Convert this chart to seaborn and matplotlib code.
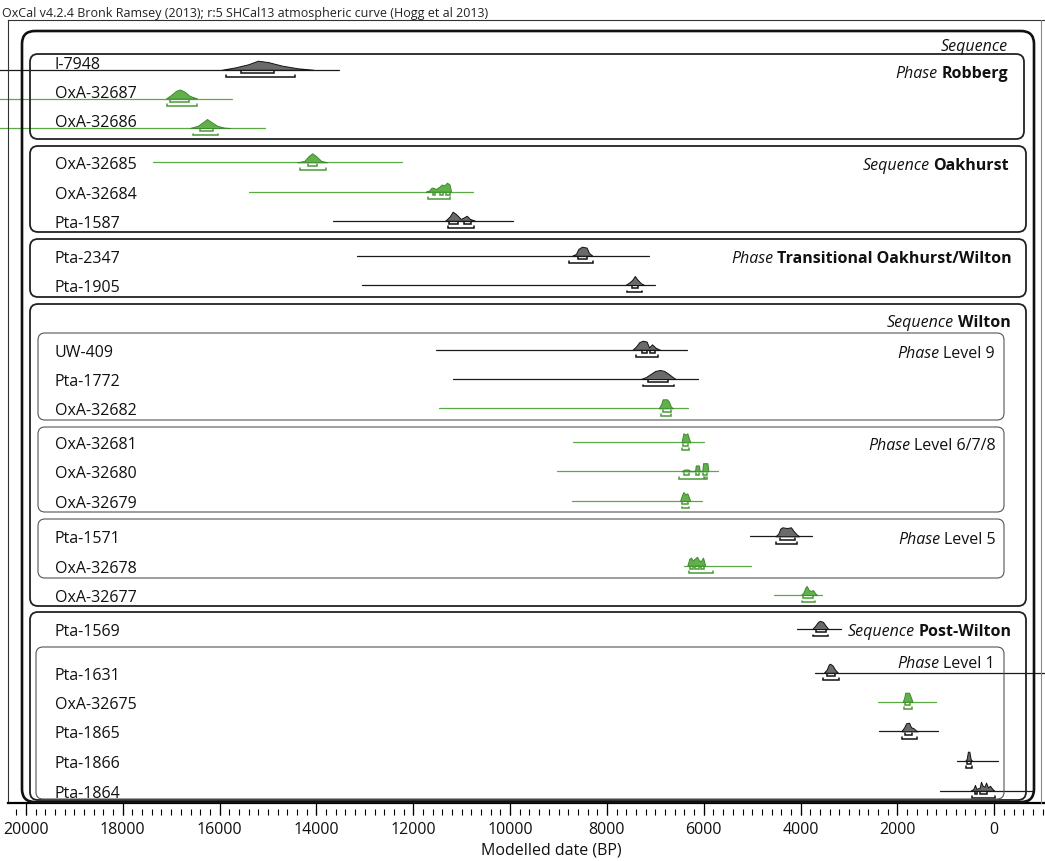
import numpy as np
import pandas as pd
import matplotlib
matplotlib.use("Agg")
import matplotlib.pyplot as plt
import seaborn as sns
from matplotlib import transforms
from matplotlib.patches import FancyBboxPatch
from matplotlib.lines import Line2D
from matplotlib.ticker import FixedLocator, FuncFormatter, NullLocator

# ======================= DATA (years BP) =======================
samples = ["I-7948", "OxA-32687", "OxA-32686",
           "OxA-32685", "OxA-32684", "Pta-1587",
           "Pta-2347", "Pta-1905",
           "UW-409", "Pta-1772", "OxA-32682",
           "OxA-32681", "OxA-32680", "OxA-32679",
           "Pta-1571", "OxA-32678", "OxA-32677",
           "Pta-1569", "Pta-1631", "OxA-32675", "Pta-1865", "Pta-1866", "Pta-1864"]
# G = OxA (new dates, green), K = older dates (black)
lab_kind = ["K", "G", "G", "G", "G", "K", "K", "K", "K", "K", "G", "G", "G", "G",
            "K", "G", "G", "K", "K", "G", "K", "K", "K"]

line_start = [22000, 22000, 22000, 17376, 15394, 13659, 13163, 13060, 11531, 11188, 11477,
              8702, 9032, 8722, 5045, 6411, 4551, 4076, 3703, 2403, 2383, 770, 1121]
line_end = [13540, 15745, 15063, 12232, 10768, 9941, 7133, 7009, 6347, 6120, 6333,
            5996, 5707, 6037, 3765, 5027, 3560, 3167, -1500, 1205, 1164, -76, -779]

range95 = [[(15868, 14443)], [(17087, 16466)], [(16550, 16033)], [(14340, 13803)],
           [(11695, 11241)], [(11283, 10746)], [(8785, 8290)], [(7589, 7279)],
           [(7401, 6946)], [(7256, 6615)], [(6888, 6681)], [(6440, 6300)],
           [(6510, 6000), (5980, 5940)], [(6460, 6310)], [(4509, 4075)], [(6305, 5809)],
           [(3973, 3703)], [(3745, 3430)], [(3546, 3212)], [(1870, 1710)],
           [(1909, 1599)], [(580, 470)], [(470, -10)]]
range68 = [[(15558, 14877)], [(17025, 16632)], [(16405, 16136)], [(14170, 13985)],
           [(11600, 11560), (11440, 11390), (11330, 11250)], [(11262, 11076), (10959, 10808)],
           [(8599, 8413)], [(7485, 7361)], [(7277, 7173), (7111, 7008)], [(7153, 6740)],
           [(6847, 6681)], [(6430, 6320)], [(6400, 6300), (6160, 6100), (6020, 5930)],
           [(6440, 6330)], [(4426, 4116)], [(6280, 6220), (6180, 6100), (6060, 6000)],
           [(3951, 3745)], [(3683, 3477)], [(3450, 3300)], [(1850, 1740)],
           [(1840, 1700)], [(560, 490)], [(400, 350), (290, 150)]]

# modelled distributions: (year BP, relative height)
pdf_I7948 = [(15950, 0), (15680, .25), (15410, .6), (15207, 1), (15000, .85), (14710, .45), (14380, .15), (14070, 0)]
pdf_OxA32687 = [(17107, 0), (17000, .4), (16900, .85), (16818, 1), (16720, .75), (16620, .3), (16466, 0)]
pdf_OxA32686 = [(16611, 0), (16450, .25), (16330, .7), (16260, 1), (16180, .7), (16050, .25), (15900, .04), (15785, 0)]
pdf_OxA32685 = [(14400, 0), (14250, .15), (14160, .7), (14086, 1), (14010, .7), (13900, .15), (13782, 0)]
pdf_OxA32684 = [(11740, 0), (11680, .1), (11620, .45), (11593, .45), (11530, .3), (11450, .6), (11407, .8),
                (11360, .7), (11303, 1), (11250, .8), (11220, 0)]
pdf_Pta1587 = [(11340, 0), (11250, .45), (11186, 1), (11120, .75), (11020, .2), (10960, .35), (10897, .55),
               (10830, .2), (10725, 0)]
pdf_Pta2347 = [(8720, 0), (8640, .2), (8590, .75), (8517, 1), (8420, .9), (8370, .3), (8300, 0)]
pdf_Pta1905 = [(7620, 0), (7560, .2), (7480, .55), (7424, 1), (7370, .6), (7300, .2), (7230, 0)]
pdf_UW409 = [(7470, 0), (7400, .35), (7330, .85), (7256, 1), (7180, .9), (7130, .25), (7070, .6), (6990, .2), (6907, 0)]
pdf_Pta1772 = [(7300, 0), (7200, .2), (7100, .55), (7000, .9), (6905, 1), (6820, .9), (6720, .55), (6640, .2), (6580, 0)]
pdf_OxA32682 = [(6930, 0), (6880, .45), (6850, 1), (6760, 1), (6720, .75), (6680, .2), (6640, 0)]
pdf_OxA32681 = [(6460, 0), (6440, .5), (6420, 1), (6370, .85), (6340, 1), (6310, .5), (6280, 0)]
pdf_OxA32680 = [(6460, 0), (6400, .2), (6320, .2), (6280, .05), (6180, .05), (6165, .65), (6100, .65), (6085, .05),
                (6030, .05), (6015, .9), (5925, .9), (5905, 0)]
pdf_OxA32679 = [(6490, 0), (6450, .65), (6420, 1), (6380, .75), (6340, .85), (6300, .3), (6280, 0)]
pdf_Pta1571 = [(4520, 0), (4460, .3), (4420, .85), (4380, 1), (4280, .92), (4200, 1), (4140, .55), (4080, .2), (4030, 0)]
pdf_OxA32678 = [(6340, 0), (6300, .75), (6264, .9), (6230, .6), (6190, .75), (6140, 1), (6100, .6), (6060, .5),
                (6016, .9), (5990, .4), (5970, 0)]
pdf_OxA32677 = [(3990, 0), (3940, .3), (3900, .85), (3875, 1), (3830, .55), (3790, .45), (3745, .55), (3700, .2), (3660, 0)]
pdf_Pta1569 = [(3760, 0), (3700, .35), (3640, .8), (3600, .9), (3540, .8), (3480, .35), (3430, 0)]
pdf_Pta1631 = [(3520, 0), (3460, .35), (3420, .9), (3393, 1), (3340, .8), (3290, .35), (3230, 0)]
pdf_OxA32675 = [(1890, 0), (1860, .45), (1840, 1), (1760, 1), (1720, .45), (1690, 0)]
pdf_Pta1865 = [(1920, 0), (1860, .45), (1820, .9), (1760, .95), (1720, .45), (1670, .35), (1620, .1), (1580, 0)]
pdf_Pta1866 = [(600, 0), (570, .2), (545, 1), (515, 1), (490, .2), (460, 0)]
pdf_Pta1864 = [(490, 0), (430, .2), (400, .65), (370, .2), (300, .35), (275, 1), (240, .55), (200, .45), (171, .9),
               (130, .35), (90, .55), (40, .2), (0, 0)]

pdfs = [pdf_I7948, pdf_OxA32687, pdf_OxA32686, pdf_OxA32685, pdf_OxA32684, pdf_Pta1587,
        pdf_Pta2347, pdf_Pta1905, pdf_UW409, pdf_Pta1772, pdf_OxA32682, pdf_OxA32681,
        pdf_OxA32680, pdf_OxA32679, pdf_Pta1571, pdf_OxA32678, pdf_OxA32677, pdf_Pta1569,
        pdf_Pta1631, pdf_OxA32675, pdf_Pta1865, pdf_Pta1866, pdf_Pta1864]

group_prefix = ["Sequence", "Phase", "Sequence", "Phase", "Sequence", "Phase", "Phase", "Phase", "Sequence", "Phase"]
group_name = ["", "Robberg", "Oakhurst", "Transitional Oakhurst/Wilton", "Wilton", "Level 9",
              "Level 6/7/8", "Level 5", "Post-Wilton", "Level 1"]
group_bold = [False, True, True, True, True, False, False, False, True, False]

x_ticks = list(range(0, 20001, 2000))
x_minor_ticks = list(range(-1000, 20201, 200))
x_label = "Modelled date (BP)"
header = "OxCal v4.2.4 Bronk Ramsey (2013); r:5 SHCal13 atmospheric curve (Hogg et al 2013)"

# ======================= LAYOUT (pixels, top-left origin) =======================
W, H = 1045, 862
X_ZERO, PX_PER_YR = 994.3, 0.04842
AX_L, AX_R, AX_T, AX_B = 8, 1045, 21, 804
row_line_y = [70.7, 99.5, 129, 163.3, 192.7, 221.7, 256.7, 286, 350.7, 380, 409.3, 443.3, 472.3,
              502, 537.3, 566.7, 596, 630, 673.7, 702.7, 732.3, 761.7, 791.7]
label_shift = [-7.5, -7.5, -7.5] + [0.5] * 20
LABEL_X = 55
PEAK_PX = 9.0
# boxes: x0, y0, x1, y1, linewidth(pt), colour, corner radius(px)
BOXES = [(22, 32, 1034, 803, 1.9, "#111111", 13),
         (30, 55, 1024, 140, 1.3, "#222222", 8),
         (30, 147, 1026, 233, 1.3, "#222222", 8),
         (30, 240, 1026, 298, 1.3, "#222222", 8),
         (30, 305, 1026, 607, 1.3, "#222222", 8),
         (38, 334, 1004, 421, 0.8, "#555555", 7),
         (38, 428, 1004, 513, 0.8, "#555555", 7),
         (38, 520, 1004, 579, 0.8, "#555555", 7),
         (30, 613, 1026, 801, 1.3, "#222222", 8),
         (36, 648, 1004, 800, 0.8, "#555555", 7)]
GROUP_POS = [(1008, 45), (1008, 72.5), (1009, 164), (1012, 257), (1011, 321), (995, 352),
             (996, 444), (996, 538), (1012, 630), (995, 662)]
FS = 11.5
CAP_HALF = 5.7
B68, B95, BTICK = 3.3, 7.4, 1.9

LINE_PAL = {"G": "#5aab45", "K": "#1a1a1a"}
FILL_PAL = {"G": "#62b04c", "K": "#6a6a6a"}
EDGE_PAL = {"G": "#3c8a2c", "K": "#111111"}
BRK_PAL = {"G": "#4a9a38", "K": "#111111"}


def yr_at(px):
    return (X_ZERO - px) / PX_PER_YR


sns.set_theme(style="white")
plt.rcParams["font.family"] = ["Open Sans", "DejaVu Sans"]

fig = plt.figure(figsize=(W / 100, H / 100), dpi=100)
fig.patch.set_facecolor("white")
PX = transforms.Affine2D().scale(1, -1).translate(0, H)

ax = fig.add_axes([AX_L / W, (H - AX_B) / H, (AX_R - AX_L) / W, (AX_B - AX_T) / H])
ax.set_facecolor("white")

# range lines via seaborn
recs = []
for i, s in enumerate(samples):
    recs.append(dict(sample=s, kind=lab_kind[i], year=line_start[i], y=row_line_y[i]))
    recs.append(dict(sample=s, kind=lab_kind[i], year=line_end[i], y=row_line_y[i]))
df = pd.DataFrame(recs)
sns.lineplot(data=df, x="year", y="y", hue="kind", units="sample", estimator=None, sort=False,
             palette=LINE_PAL, legend=False, linewidth=0.9, ax=ax)
for ln in ax.lines:
    ln.set_clip_on(False)

# distributions and brackets
for i, pdf in enumerate(pdfs):
    k = lab_kind[i]
    base = row_line_y[i]
    yrs = np.array([p[0] for p in pdf], dtype=float)
    hh = np.array([p[1] for p in pdf], dtype=float) * PEAK_PX
    ax.fill_between(yrs, base, base - hh, facecolor=FILL_PAL[k], edgecolor=EDGE_PAL[k],
                    linewidth=0.7, zorder=3)
    for segs, dy in ((range68[i], B68), (range95[i], B95)):
        for a, b in segs:
            yb = base + dy
            ax.plot([a, a, b, b], [yb - BTICK, yb, yb, yb - BTICK], color=BRK_PAL[k], lw=1.1,
                    zorder=3, solid_joinstyle="miter")

ax.set_xlim(yr_at(AX_L), yr_at(AX_R))
ax.set_ylim(AX_B, AX_T)
ax.set_yticks([])
ax.set_ylabel("")
ax.xaxis.set_major_locator(FixedLocator(x_ticks))
ax.xaxis.set_major_formatter(FuncFormatter(lambda v, p: f"{v:.0f}"))
ax.xaxis.set_minor_locator(NullLocator())
ax.tick_params(axis="x", which="major", bottom=True, direction="out", length=12 / 1.389,
               width=0.9, color="black", pad=4.5, labelsize=11.5, labelcolor="#111111")
for sp in ("top", "left"):
    ax.spines[sp].set_linewidth(0.8)
    ax.spines[sp].set_color("#333333")
ax.spines["right"].set_visible(False)
ax.spines["bottom"].set_linewidth(1.6)
ax.spines["bottom"].set_color("black")

sec = ax.secondary_xaxis(-6 / (AX_B - AX_T))
sec.spines["bottom"].set_visible(False)
sec.xaxis.set_major_locator(FixedLocator(x_minor_ticks))
sec.tick_params(axis="x", which="major", bottom=True, direction="out", length=6 / 1.389,
                width=0.8, color="black", labelbottom=False)

ax.set_xlabel(x_label, fontsize=FS, color="#111111")
ax.xaxis.set_label_coords((551 - AX_L) / (AX_R - AX_L), -(851 - AX_B) / (AX_B - AX_T))
ax.xaxis.label.set_va("center")

# right frame edge
fig.add_artist(Line2D([1041, 1041], [AX_T, AX_B], transform=PX, color="#8a8a8a", lw=0.8))

# boxes
for x0, y0, x1, y1, lw, col, r in BOXES:
    fig.add_artist(FancyBboxPatch((x0, y0), x1 - x0, y1 - y0,
                                  boxstyle=f"round,pad=0,rounding_size={r}",
                                  transform=PX, fill=False, edgecolor=col, linewidth=lw))

# sample labels
for i, s in enumerate(samples):
    fig.text(LABEL_X, row_line_y[i] + label_shift[i] + CAP_HALF, s, transform=PX,
             ha="left", va="baseline", fontsize=FS, color="#111111")

# group labels
renderer = fig.canvas.get_renderer()
for pre, name, bold, (xr, yc) in zip(group_prefix, group_name, group_bold, GROUP_POS):
    yb = yc + CAP_HALF
    x = xr
    if name:
        t = fig.text(x, yb, name, transform=PX, ha="right", va="baseline", fontsize=FS,
                     fontweight="bold" if bold else "normal", color="#111111")
        x -= t.get_window_extent(renderer).width + 4
    fig.text(x, yb, pre, transform=PX, ha="right", va="baseline", fontsize=FS,
             fontstyle="italic", color="#111111")

fig.text(2, 17.5, header, transform=PX, ha="left", va="baseline", fontsize=9.0, color="#222222")

fig.savefig("out.png", dpi=100, facecolor="white")
